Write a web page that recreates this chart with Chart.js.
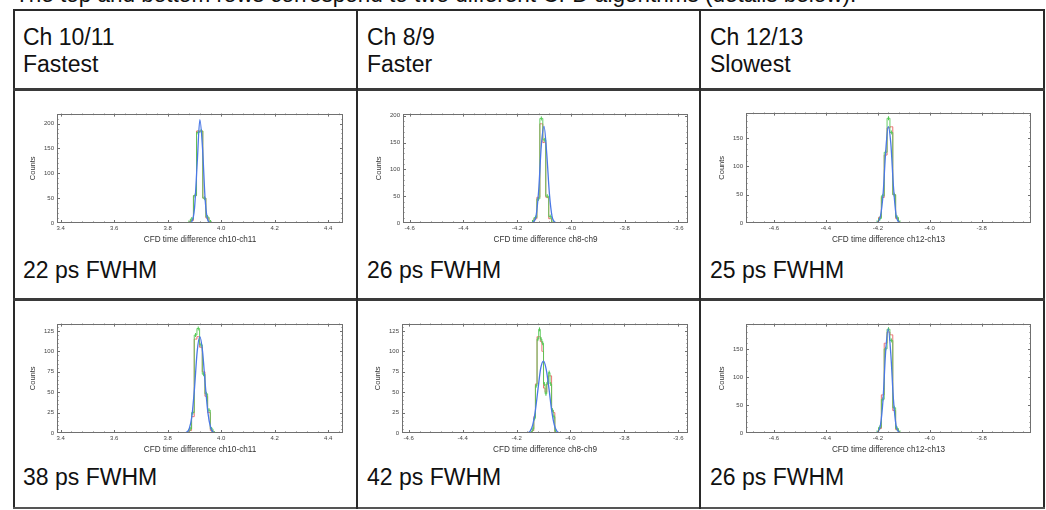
<!DOCTYPE html>
<html><head><meta charset="utf-8">
<script src="https://cdn.jsdelivr.net/npm/chart.js@4/dist/chart.umd.min.js"></script>
<style>
html,body{margin:0;padding:0;background:#fff;width:1046px;height:510px;overflow:hidden;font-family:"Liberation Sans",Arial,sans-serif;}
.cap{position:absolute;left:15px;top:-19px;font-size:22.5px;line-height:27px;color:#111;white-space:nowrap;}
.hl{position:absolute;background:#2a2a2a;}
.txt{position:absolute;font-size:23px;line-height:27px;color:#111;white-space:nowrap;}
canvas{position:absolute;}
</style></head><body>
<div class="cap">The top and bottom rows correspond to two different CFD algorithms (details below).</div>

<div class="hl" style="left:13px;top:9px;width:1032px;height:2px;"></div>
<div class="hl" style="left:13px;top:9px;width:2px;height:500px;"></div>
<div class="hl" style="left:1043px;top:9px;width:2px;height:500px;"></div>
<div class="hl" style="left:13px;top:507px;width:1032px;height:2px;background:#555;"></div>
<div class="hl" style="left:13px;top:88px;width:1032px;height:3px;background:#3a3a3a;"></div>
<div class="hl" style="left:13px;top:298px;width:1032px;height:3px;background:#3a3a3a;"></div>
<div class="hl" style="left:356px;top:9px;width:2px;height:500px;"></div>
<div class="hl" style="left:699px;top:9px;width:2px;height:500px;"></div>

<div class="txt" style="left:23px;top:23.5px;">Ch 10/11<br>Fastest</div>
<div class="txt" style="left:367px;top:23.5px;">Ch 8/9<br>Faster</div>
<div class="txt" style="left:710px;top:23.5px;">Ch 12/13<br>Slowest</div>

<div class="txt" style="left:23px;top:257px;">22 ps FWHM</div>
<div class="txt" style="left:367px;top:257px;">26 ps FWHM</div>
<div class="txt" style="left:710px;top:257px;">25 ps FWHM</div>
<div class="txt" style="left:23px;top:464px;">38 ps FWHM</div>
<div class="txt" style="left:367px;top:464px;">42 ps FWHM</div>
<div class="txt" style="left:710px;top:464px;">26 ps FWHM</div>

<canvas id="c1"></canvas><canvas id="c2"></canvas><canvas id="c3"></canvas>
<canvas id="c4"></canvas><canvas id="c5"></canvas><canvas id="c6"></canvas>

<script>
// ---------- tick labels ----------
const xTicksA = [3.4, 3.6, 3.8, 4.0, 4.2, 4.4];
const xTicksB = [-4.6, -4.4, -4.2, -4.0, -3.8, -3.6];
const xTicksC = [-4.6, -4.4, -4.2, -4.0, -3.8];
const yTicks200 = [0, 50, 100, 150, 200];
const yTicks150 = [0, 50, 100, 150];
const yTicks125 = [0, 25, 50, 75, 100, 125];
const xTitles = ["CFD time difference ch10-ch11", "CFD time difference ch8-ch9", "CFD time difference ch12-ch13"];

// ---------- chart 1 : ch10/11 top ----------
const c1_binX  = [3.879, 3.890, 3.902, 3.913, 3.925, 3.937, 3.948, 3.960];
const c1_red   = [0, 5, 55, 185, 185, 50, 10, 0];
const c1_green = [1, 8, 55, 182, 185, 50, 12, 2];
const c1_blueX = [3.88, 3.89, 3.90, 3.91, 3.92, 3.93, 3.94, 3.95, 3.96];
const c1_blue  = [0, 3, 30, 120, 208, 150, 45, 5, 0];

// ---------- chart 2 : ch8/9 top ----------
const c2_binX  = [-4.143, -4.132, -4.121, -4.110, -4.099, -4.088, -4.077, -4.066];
const c2_red   = [0, 8, 48, 185, 150, 48, 8, 0];
const c2_green = [2, 10, 45, 195, 155, 50, 12, 1];
const c2_blueX = [-4.15, -4.14, -4.13, -4.12, -4.11, -4.10, -4.09, -4.08, -4.07, -4.06, -4.05];
const c2_blue  = [0, 2, 12, 60, 145, 180, 130, 55, 12, 2, 0];

// ---------- chart 3 : ch12/13 top ----------
const c3_binX  = [-4.203, -4.192, -4.181, -4.170, -4.159, -4.148, -4.137, -4.126, -4.115];
const c3_red   = [0, 10, 45, 120, 168, 170, 50, 8, 0];
const c3_green = [1, 8, 48, 125, 185, 160, 50, 10, 1];
const c3_blueX = [-4.21, -4.20, -4.19, -4.18, -4.17, -4.16, -4.15, -4.14, -4.13, -4.12, -4.11];
const c3_blue  = [0, 2, 12, 50, 125, 170, 140, 65, 15, 2, 0];

// ---------- chart 4 : ch10/11 bottom ----------
const c4_binX  = [3.874, 3.884, 3.894, 3.904, 3.914, 3.924, 3.934, 3.944, 3.954, 3.964, 3.974];
const c4_red   = [0, 3, 20, 115, 118, 105, 75, 45, 25, 3, 0];
const c4_green = [0, 5, 25, 120, 128, 108, 72, 48, 28, 5, 0];
const c4_blueX = [3.86, 3.87, 3.88, 3.89, 3.90, 3.91, 3.92, 3.93, 3.94, 3.95, 3.96, 3.97, 3.98];
const c4_blue  = [0, 1, 5, 20, 55, 100, 118, 100, 60, 25, 7, 1, 0];

// ---------- chart 5 : ch8/9 bottom ----------
const c5_binX  = [-4.145, -4.139, -4.133, -4.127, -4.121, -4.115, -4.109, -4.103, -4.097, -4.091, -4.085, -4.079, -4.073, -4.067, -4.061, -4.055];
const c5_red   = [0, 3, 20, 60, 118, 118, 112, 100, 55, 50, 60, 70, 70, 28, 25, 0];
const c5_green = [0, 5, 18, 58, 115, 127, 115, 110, 60, 48, 62, 74, 60, 28, 20, 2];
const c5_blueX = [-4.16, -4.15, -4.14, -4.13, -4.12, -4.11, -4.10, -4.09, -4.08, -4.07, -4.06, -4.05, -4.04];
const c5_blue  = [0, 2, 10, 28, 55, 80, 88, 78, 55, 28, 10, 2, 0];

// ---------- chart 6 : ch12/13 bottom ----------
const c6_binX  = [-4.203, -4.192, -4.181, -4.170, -4.159, -4.148, -4.137, -4.126, -4.115];
const c6_red   = [0, 8, 68, 160, 180, 175, 40, 6, 0];
const c6_green = [1, 10, 60, 150, 185, 165, 45, 8, 1];
const c6_blueX = [-4.21, -4.20, -4.19, -4.18, -4.17, -4.16, -4.15, -4.14, -4.13, -4.12, -4.11];
const c6_blue  = [0, 2, 14, 60, 145, 185, 140, 60, 14, 2, 0];

const FONT = "'Liberation Sans', Arial, sans-serif";

const framePlugin = {
  id: 'frameTicks',
  afterDatasetsDraw(chart, args, opts) {
    const {ctx, chartArea: a, scales: {x, y}} = chart;
    ctx.save();
    ctx.strokeStyle = '#707070';
    ctx.lineWidth = 1;
    ctx.beginPath();
    const xs = opts.xTicks, ys = opts.yTicks;
    const xStep = xs[1] - xs[0], yStep = ys[1] - ys[0];
    for (let i = -1; i <= xs.length; i++) {
      for (let k = 0; k < 5; k++) {
        const v = xs[0] + i * xStep + k * xStep / 5;
        const p = Math.round(x.getPixelForValue(v)) + 0.5;
        if (p < a.left + 1 || p > a.right - 1) continue;
        const len = k === 0 ? 3 : 1.5;
        ctx.moveTo(p, a.bottom); ctx.lineTo(p, a.bottom - len);
        ctx.moveTo(p, a.top); ctx.lineTo(p, a.top + len);
      }
    }
    for (let i = 0; i <= ys.length; i++) {
      for (let k = 0; k < 5; k++) {
        const v = ys[0] + i * yStep + k * yStep / 5;
        const p = Math.round(y.getPixelForValue(v)) + 0.5;
        if (p < a.top + 1 || p > a.bottom - 1) continue;
        const len = k === 0 ? 3 : 1.5;
        ctx.moveTo(a.left, p); ctx.lineTo(a.left + len, p);
        ctx.moveTo(a.right, p); ctx.lineTo(a.right - len, p);
      }
    }
    ctx.stroke();
    ctx.strokeRect(Math.round(a.left) + 0.5, Math.round(a.top) + 0.5,
                   Math.round(a.right - a.left) - 1, Math.round(a.bottom - a.top) - 1);
    ctx.restore();
  }
};

function pts(xs, ys) { return xs.map((v, i) => ({x: v, y: ys[i]})); }

function makeChart(id, box, xr, xTicks, yMax, yTicks, xTitle, binX, red, green, blueX, blue) {
  const cv = document.getElementById(id);
  const W = box.R - box.L + 52, H = box.B - box.T + 30;
  cv.width = W; cv.height = H;
  cv.style.left = (box.L - 44) + 'px';
  cv.style.top = (box.T - 6) + 'px';
  cv.style.width = W + 'px'; cv.style.height = H + 'px';
  new Chart(cv, {
    type: 'line',
    data: {
      datasets: [
        {data: pts(blueX, blue), borderColor: '#4a78e6', borderWidth: 1.3, pointRadius: 0,
         cubicInterpolationMode: 'monotone', order: 0},
        {data: pts(binX, green), borderColor: '#52c852', borderWidth: 0.9, stepped: 'middle',
         pointStyle: 'line', rotation: 90, pointRadius: 2, pointBorderWidth: 1,
         pointBorderColor: '#52c852', order: 1},
        {data: pts(binX, red), borderColor: '#ec7272', borderWidth: 1, stepped: 'middle',
         pointRadius: 0, order: 2}
      ]
    },
    options: {
      responsive: false, animation: false, devicePixelRatio: 1,
      layout: {padding: {left: 0, top: 6, right: 8, bottom: 0}},
      plugins: {legend: {display: false}, tooltip: {enabled: false}, frameTicks: {xTicks, yTicks}},
      scales: {
        x: {
          type: 'linear', min: xr[0], max: xr[1],
          grid: {display: false, drawTicks: false}, border: {display: false},
          afterBuildTicks: s => { s.ticks = xTicks.map(v => ({value: v})); },
          afterFit: s => { s.height = 24; },
          ticks: {autoSkip: false, maxRotation: 0, minRotation: 0, padding: 2, color: '#444',
                  font: {family: FONT, size: 6}, callback: v => Number(v).toFixed(1)},
          title: {display: true, text: xTitle, color: '#333', padding: {top: 0, bottom: 2},
                  font: {family: FONT, size: 8.2}}
        },
        y: {
          type: 'linear', min: 0, max: yMax,
          grid: {display: false, drawTicks: false}, border: {display: false},
          afterBuildTicks: s => { s.ticks = yTicks.map(v => ({value: v})); },
          afterFit: s => { s.width = 44; },
          ticks: {autoSkip: false, padding: 3, color: '#444',
                  font: {family: FONT, size: 6}, callback: v => String(v)},
          title: {display: true, text: 'Counts', color: '#333', padding: {top: 15.5, bottom: 0},
                  font: {family: FONT, size: 7.5}}
        }
      }
    },
    plugins: [framePlugin]
  });
}

const rA = [3.386, 4.455], rB = [-4.625, -3.564], rC = [-4.708, -3.61];
makeChart('c1', {L: 57, R: 343, T: 113, B: 223}, rA, xTicksA, 220, yTicks200, xTitles[0], c1_binX, c1_red, c1_green, c1_blueX, c1_blue);
makeChart('c2', {L: 403, R: 688, T: 113, B: 223}, rB, xTicksB, 204, yTicks200, xTitles[1], c2_binX, c2_red, c2_green, c2_blueX, c2_blue);
makeChart('c3', {L: 746, R: 1031, T: 112, B: 223}, rC, xTicksC, 195, yTicks150, xTitles[2], c3_binX, c3_red, c3_green, c3_blueX, c3_blue);
makeChart('c4', {L: 57, R: 343, T: 323, B: 433}, rA, xTicksA, 134, yTicks125, xTitles[0], c4_binX, c4_red, c4_green, c4_blueX, c4_blue);
makeChart('c5', {L: 402, R: 688, T: 323, B: 433}, rB, xTicksB, 134, yTicks125, xTitles[1], c5_binX, c5_red, c5_green, c5_blueX, c5_blue);
makeChart('c6', {L: 746, R: 1031, T: 323, B: 433}, rC, xTicksC, 195, yTicks150, xTitles[2], c6_binX, c6_red, c6_green, c6_blueX, c6_blue);
</script>
</body></html>
